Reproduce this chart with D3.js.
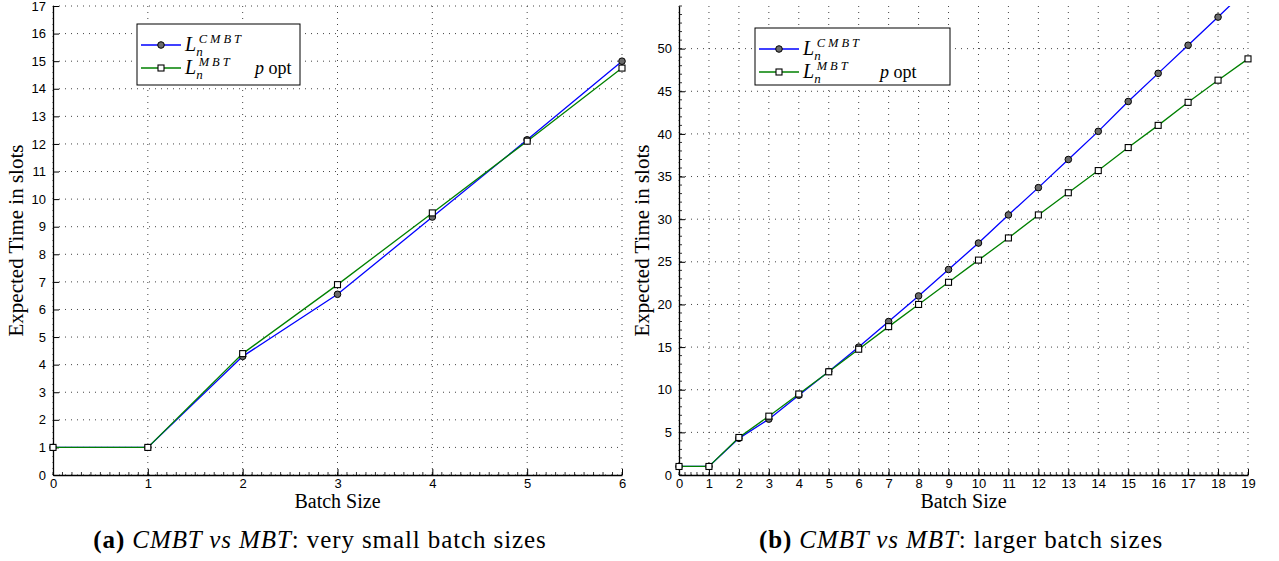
<!DOCTYPE html>
<html>
<head>
<meta charset="utf-8">
<script src="https://cdn.jsdelivr.net/npm/d3@7"></script>
<style>
  body { margin: 0; background: #fff; }
  svg { display: block; }
  .tick text { font-family: "Liberation Sans", Arial, sans-serif; font-size: 13px; fill: #000; }
  .serif { font-family: "Liberation Serif", "Times New Roman", serif; }
</style>
</head>
<body>
<svg width="1279" height="561"></svg>
<script>
// ---- data ----
var batchSmall = [0, 1, 2, 3, 4, 5, 6];
var cmbtSmall = [1, 1, 4.3, 6.55, 9.35, 12.15, 15.0];
var mbtSmall  = [1, 1, 4.4, 6.9, 9.5, 12.1, 14.75];

var batchLarge = [0, 1, 2, 3, 4, 5, 6, 7, 8, 9, 10, 11, 12, 13, 14, 15, 16, 17, 18, 19];
var cmbtLarge = [1, 1, 4.3, 6.55, 9.35, 12.15, 15.0, 18.0, 21.0, 24.1, 27.2, 30.5, 33.7, 37.0, 40.3, 43.8, 47.1, 50.4, 53.7, 57.1];
var mbtLarge  = [1, 1, 4.4, 6.9, 9.5, 12.1, 14.75, 17.4, 20.0, 22.6, 25.2, 27.8, 30.5, 33.1, 35.7, 38.4, 41.0, 43.7, 46.3, 48.8];

var yTicksSmall = [0, 1, 2, 3, 4, 5, 6, 7, 8, 9, 10, 11, 12, 13, 14, 15, 16, 17];
var yTicksLarge = [0, 5, 10, 15, 20, 25, 30, 35, 40, 45, 50];

var svg = d3.select("svg");

drawPanel({
    left: 53, right: 622, top: 6, bottom: 475,
    xs: batchSmall, a: cmbtSmall, b: mbtSmall,
    xMax: 6, yMax: 17, yTicks: yTicksSmall,
    xMinor: 0.1, yMinor: null,
    legend: { x: 137, y: 24, w: 163, h: 61, popt: 255 },
    ylabX: 17,
    caption: { x: 320, lbl: "(a)", rest: ": very small batch sizes" },
    id: "a"
});

drawPanel({
    left: 679, right: 1248, top: 6, bottom: 475,
    xs: batchLarge, a: cmbtLarge, b: mbtLarge,
    xMax: 19, yMax: 55, yTicks: yTicksLarge,
    xMinor: 0.2, yMinor: 1,
    legend: { x: 755, y: 28, w: 195, h: 57, popt: 880 },
    ylabX: 643,
    caption: { x: 961, lbl: "(b)", rest: ": larger batch sizes" },
    id: "b"
});

function drawPanel(c) {
    var width = c.right - c.left,
        height = c.bottom - c.top;

    var x = d3.scaleLinear().domain([0, c.xMax]).range([0, width]);
    var y = d3.scaleLinear().domain([0, c.yMax]).range([height, 0]);

    var g = svg.append("g")
        .attr("transform", "translate(" + c.left + "," + c.top + ")");

    g.append("clipPath").attr("id", "clip-" + c.id)
        .append("rect").attr("x", -6).attr("y", 0).attr("width", width + 12).attr("height", height + 6);

    // dotted grid
    g.append("g").selectAll("line").data(x.ticks(c.xMax)).enter().append("line")
        .attr("x1", d => x(d)).attr("x2", d => x(d))
        .attr("y1", 0).attr("y2", height)
        .attr("stroke", "#444").attr("stroke-width", 1).attr("stroke-dasharray", "1,5");
    g.append("g").selectAll("line").data(c.yTicks).enter().append("line")
        .attr("x1", 0).attr("x2", width)
        .attr("y1", d => y(d)).attr("y2", d => y(d))
        .attr("stroke", "#444").attr("stroke-width", 1).attr("stroke-dasharray", "1,5");

    // minor ticks
    var xm = d3.range(0, c.xMax + 1e-9, c.xMinor);
    g.append("g").selectAll("line").data(xm).enter().append("line")
        .attr("x1", d => x(d)).attr("x2", d => x(d))
        .attr("y1", height).attr("y2", height - 3)
        .attr("stroke", "#000").attr("stroke-width", 0.8);
    if (c.yMinor) {
        var ym = d3.range(0, c.yMax + 1e-9, c.yMinor);
        g.append("g").selectAll("line").data(ym).enter().append("line")
            .attr("x1", 0).attr("x2", 3)
            .attr("y1", d => y(d)).attr("y2", d => y(d))
            .attr("stroke", "#000").attr("stroke-width", 0.8);
    }

    // axes (ticks point inward)
    var gx = g.append("g")
        .attr("transform", "translate(0," + height + ")")
        .call(d3.axisBottom(x).tickValues(c.xs).tickFormat(d3.format("d"))
            .tickSizeInner(-6).tickSizeOuter(0).tickPadding(4));
    var gy = g.append("g")
        .call(d3.axisLeft(y).tickValues(c.yTicks).tickFormat(d3.format("d"))
            .tickSizeInner(-6).tickSizeOuter(0).tickPadding(7));
    [gx, gy].forEach(function (a) {
        a.select(".domain").attr("stroke", "#000").attr("stroke-width", 1.3);
        a.selectAll(".tick line").attr("stroke", "#000");
    });

    // lines
    var line = d3.line().x(d => x(d[0])).y(d => y(d[1]));
    var A = c.xs.map((v, i) => [v, c.a[i]]);
    var B = c.xs.map((v, i) => [v, c.b[i]]);
    var plot = g.append("g").attr("clip-path", "url(#clip-" + c.id + ")");

    plot.append("path").datum(A).attr("d", line)
        .attr("fill", "none").attr("stroke", "#0000ff").attr("stroke-width", 1.3);
    plot.selectAll(".ca").data(A).enter().append("circle")
        .attr("cx", d => x(d[0])).attr("cy", d => y(d[1])).attr("r", 3.3)
        .attr("fill", "#6b6b6b").attr("stroke", "#000").attr("stroke-width", 1);

    plot.append("path").datum(B).attr("d", line)
        .attr("fill", "none").attr("stroke", "#008000").attr("stroke-width", 1.3);
    plot.selectAll(".sb").data(B).enter().append("rect")
        .attr("x", d => x(d[0]) - 3).attr("y", d => y(d[1]) - 3)
        .attr("width", 6).attr("height", 6)
        .attr("fill", "#fff").attr("stroke", "#000").attr("stroke-width", 1.1);

    // axis labels
    svg.append("text").attr("class", "serif")
        .attr("x", (c.left + c.right) / 2).attr("y", 508)
        .attr("text-anchor", "middle").attr("font-size", 20)
        .text("Batch Size");
    svg.append("text").attr("class", "serif")
        .attr("transform", "translate(" + (c.ylabX + 6) + "," + (c.top + height / 2) + ") rotate(-90)")
        .attr("text-anchor", "middle").attr("font-size", 21)
        .text("Expected Time in slots");

    // legend
    var L = c.legend;
    var lg = svg.append("g").attr("transform", "translate(" + L.x + "," + L.y + ")");
    lg.append("rect").attr("width", L.w).attr("height", L.h)
        .attr("fill", "#fff").attr("stroke", "#000").attr("stroke-width", 1);
    var rows = [
        { y: 21, sup: "CMBT", color: "#0000ff", mark: "circle" },
        { y: 44, sup: "MBT", color: "#008000", mark: "square" }
    ];
    rows.forEach(function (r) {
        lg.append("line").attr("x1", 4).attr("x2", 44).attr("y1", r.y).attr("y2", r.y)
            .attr("stroke", r.color).attr("stroke-width", 1.3);
        if (r.mark === "circle") {
            lg.append("circle").attr("cx", 24).attr("cy", r.y).attr("r", 3.3)
                .attr("fill", "#6b6b6b").attr("stroke", "#000");
        } else {
            lg.append("rect").attr("x", 21).attr("y", r.y - 3).attr("width", 6).attr("height", 6)
                .attr("fill", "#fff").attr("stroke", "#000").attr("stroke-width", 1.1);
        }
        // L with subscript n and superscript label, one text element
        var t = lg.append("text").attr("class", "serif").attr("font-style", "italic")
            .attr("x", 48).attr("y", r.y + 6);
        t.append("tspan").attr("font-size", 20).text("L");
        t.append("tspan").attr("font-size", 13).attr("dy", 5).text("n");
        t.append("tspan").attr("font-size", 12.5).attr("letter-spacing", 3)
            .attr("dx", -4).attr("dy", -13).text(r.sup);
    });
    var po = lg.append("text").attr("class", "serif").attr("font-size", 18)
        .attr("x", L.popt - L.x).attr("y", 50);
    po.append("tspan").attr("font-style", "italic").text("p");
    po.append("tspan").text(" opt");

    // caption
    var cap = svg.append("text").attr("class", "serif").attr("font-size", 25)
        .attr("letter-spacing", 0.9)
        .attr("x", c.caption.x).attr("y", 548).attr("text-anchor", "middle");
    cap.append("tspan").attr("font-weight", "bold").text(c.caption.lbl + " ");
    cap.append("tspan").attr("font-style", "italic").text(" CMBT vs MBT");
    cap.append("tspan").text(c.caption.rest);
}
</script>
</body>
</html>
